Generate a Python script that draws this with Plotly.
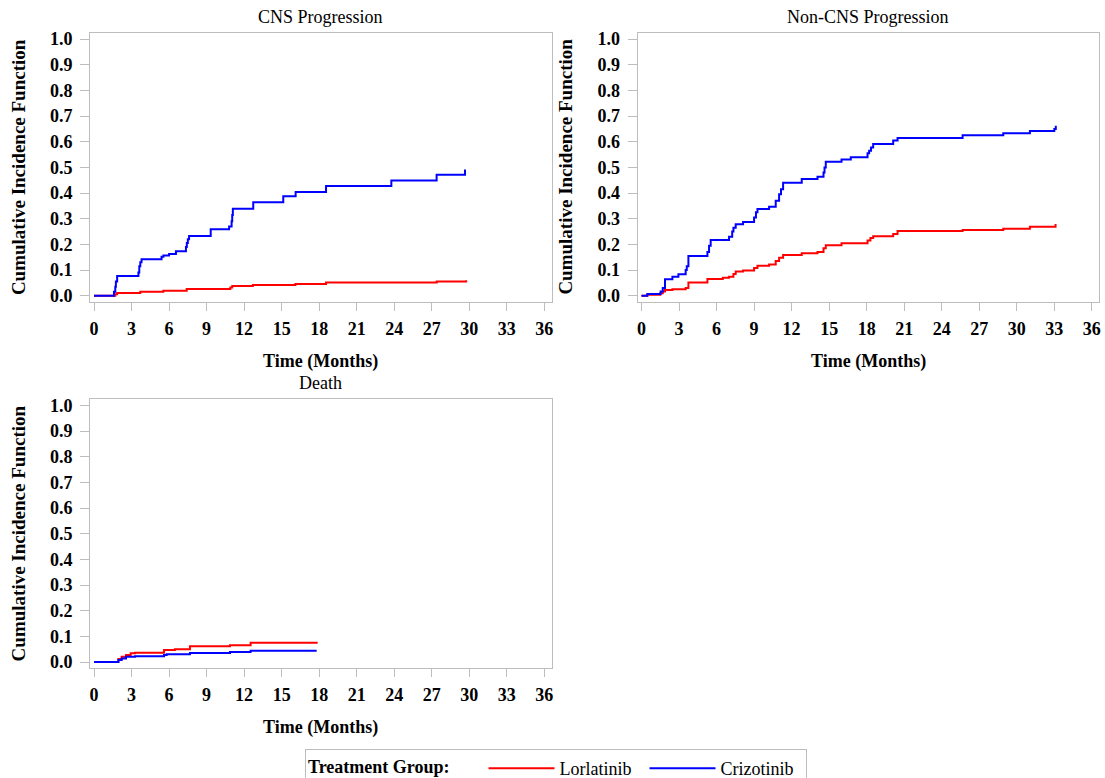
import plotly.graph_objects as go

W, H = 1105, 778

# ---------------- data ----------------
cns_lor_t = [0, 1.7, 1.85, 3.7, 5.54, 7.41, 10.9, 11.05, 12.7, 16.1, 18.55, 27.4, 29.75]
cns_lor_v = [0, 0.006, 0.011, 0.015, 0.019, 0.026, 0.032, 0.038, 0.042, 0.046, 0.051, 0.055, 0.06]

cns_cri_t = [0, 1.6, 1.7, 1.75, 1.85, 3.55, 3.62, 3.7, 3.8, 5.4, 5.55, 6.0, 6.55, 7.35, 7.42, 7.5,
             7.6, 9.33, 10.8, 11.0, 11.05, 11.1, 12.73, 15.13, 16.12, 18.55, 23.77, 27.39, 29.66]
cns_cri_v = [0, 0.015, 0.035, 0.055, 0.077, 0.09, 0.115, 0.13, 0.142, 0.152, 0.157, 0.163, 0.173,
             0.19, 0.205, 0.22, 0.233, 0.259, 0.27, 0.29, 0.315, 0.339, 0.364, 0.388, 0.404, 0.428,
             0.449, 0.471, 0.492]

noncns_lor_t = [0, 0.45, 1.5, 1.7, 1.88, 2.47, 3.53, 3.75, 5.27, 6.5, 7.0, 7.35, 7.53, 8.12, 9.0,
                9.27, 10.2, 10.73, 11.0, 11.32, 12.81, 14.07, 14.55, 14.73, 15.99, 18.07, 18.3,
                18.52, 20.12, 20.47, 25.67, 28.92, 31.05, 33.1]
noncns_lor_v = [0, 0.004, 0.01, 0.016, 0.022, 0.025, 0.03, 0.051, 0.065, 0.07, 0.074, 0.085, 0.094,
                0.098, 0.108, 0.117, 0.122, 0.135, 0.148, 0.159, 0.165, 0.17, 0.185, 0.197, 0.204,
                0.215, 0.225, 0.232, 0.24, 0.252, 0.256, 0.261, 0.269, 0.279]

noncns_cri_t = [0, 0.47, 1.53, 1.7, 1.88, 2.47, 2.95, 3.53, 3.62, 3.75, 5.27, 5.4, 5.53, 7.0, 7.25,
                7.35, 7.53, 8.12, 9.0, 9.15, 9.27, 10.2, 10.73, 11.0, 11.15, 11.32, 12.81, 14.07,
                14.55, 14.63, 14.73, 15.99, 16.73, 18.07, 18.2, 18.35, 18.52, 20.12, 20.47, 25.67,
                28.92, 31.05, 33.0, 33.12]
noncns_cri_v = [0, 0.007, 0.016, 0.03, 0.064, 0.074, 0.084, 0.1, 0.115, 0.155, 0.17, 0.195, 0.217,
                0.23, 0.25, 0.265, 0.278, 0.287, 0.305, 0.325, 0.338, 0.347, 0.37, 0.395, 0.415,
                0.44, 0.455, 0.464, 0.48, 0.5, 0.522, 0.531, 0.54, 0.555, 0.565, 0.578, 0.591,
                0.605, 0.615, 0.625, 0.633, 0.642, 0.65, 0.662]

death_lor_t = [0, 1.95, 2.21, 2.56, 2.93, 3.28, 5.6, 6.47, 7.67, 10.87, 12.52, 17.8]
death_lor_v = [0, 0.012, 0.02, 0.027, 0.034, 0.036, 0.047, 0.05, 0.061, 0.065, 0.075, 0.079]

death_cri_t = [0, 1.95, 2.21, 2.56, 3.28, 5.6, 5.81, 7.67, 10.87, 12.52, 17.8]
death_cri_v = [0, 0.008, 0.014, 0.02, 0.022, 0.027, 0.03, 0.035, 0.039, 0.044, 0.044]

panel_titles = ["CNS Progression", "Non-CNS Progression", "Death"]
group_names = ["Lorlatinib", "Crizotinib"]
group_colors = ["#FF0000", "#0000FF"]
x_ticks = list(range(0, 37, 3))
y_ticks = [round(i * 0.1, 1) for i in range(11)]

# ---------------- layout helpers ----------------
def px_x(p):
    return p / W

def px_y(p):
    return 1 - p / H

FONT = "Liberation Serif"
GRAY = "#BDBDBD"

# panel frames in pixels: (left, right, top, bottom)
frames = [(90, 551.7, 32.7, 301.5), (637.5, 1099.2, 32.7, 301.5), (90, 551.7, 399, 667.8)]

fig = go.Figure()

panels = [
    (cns_lor_t, cns_lor_v, cns_cri_t, cns_cri_v),
    (noncns_lor_t, noncns_lor_v, noncns_cri_t, noncns_cri_v),
    (death_lor_t, death_lor_v, death_cri_t, death_cri_v),
]

for i, (lt, lv, ct, cv) in enumerate(panels):
    suffix = "" if i == 0 else str(i + 1)
    for name, color, tt, vv in [(group_names[0], group_colors[0], lt, lv),
                                (group_names[1], group_colors[1], ct, cv)]:
        fig.add_trace(go.Scatter(
            x=tt, y=vv, mode="lines", line=dict(color=color, width=2, shape="hv"),
            name=name, legendgroup=name, showlegend=(i == 0),
            xaxis="x" + suffix, yaxis="y" + suffix,
        ))

layout = dict(
    width=W, height=H,
    margin=dict(l=0, r=0, t=0, b=0, autoexpand=False),
    paper_bgcolor="white", plot_bgcolor="white",
    font=dict(family=FONT, size=18, color="black"),
    showlegend=True,
)

annotations = []
for i, (l, r, t, b) in enumerate(frames):
    suffix = "" if i == 0 else str(i + 1)
    layout["xaxis" + suffix] = dict(
        domain=[px_x(l), px_x(r)], anchor="y" + suffix,
        range=[-0.32, 36.59], tickvals=x_ticks,
        showline=True, mirror=True, linecolor=GRAY, linewidth=1,
        ticks="outside", ticklen=8, tickcolor=GRAY, tickwidth=1,
        showgrid=False, zeroline=False,
        tickfont=dict(family=FONT, size=18, weight="bold", color="black"),
        ticklabelstandoff=3,
    )
    layout["yaxis" + suffix] = dict(
        domain=[px_y(b), px_y(t)], anchor="x" + suffix,
        range=[-0.0226, 1.025], tickvals=y_ticks, tickformat=".1f",
        showline=True, mirror=True, linecolor=GRAY, linewidth=1,
        ticks="outside", ticklen=9, tickcolor=GRAY, tickwidth=1,
        showgrid=False, zeroline=False,
        tickfont=dict(family=FONT, size=18, weight="bold", color="black"),
        ticklabelstandoff=4,
    )
    cx = (l + r) / 2
    cy = (t + b) / 2
    # panel title
    annotations.append(dict(
        text=panel_titles[i], xref="paper", yref="paper",
        x=px_x(cx), y=px_y(t - 16), xanchor="center", yanchor="middle",
        showarrow=False, font=dict(family=FONT, size=18, color="black"),
    ))
    # x axis title
    annotations.append(dict(
        text="<b>Time (Months)</b>", xref="paper", yref="paper",
        x=px_x(cx), y=px_y(b + 59.5), xanchor="center", yanchor="middle",
        showarrow=False, font=dict(family=FONT, size=18, color="black"),
    ))
    # y axis title
    annotations.append(dict(
        text="<b>Cumulative Incidence Function</b>", xref="paper", yref="paper",
        x=px_x(l - 72), y=px_y(cy), xanchor="center", yanchor="middle",
        textangle=-90, showarrow=False, font=dict(family=FONT, size=19, color="black"),
    ))

layout["annotations"] = annotations
layout["legend"] = dict(
    orientation="h", x=px_x(305), xanchor="left", y=px_y(749), yanchor="top",
    bordercolor=GRAY, borderwidth=1, bgcolor="white",
    font=dict(family=FONT, size=18, color="black"),
    title=dict(text="<b>Treatment Group:</b>&nbsp;&nbsp;&nbsp;&nbsp;&nbsp;&nbsp;",
               font=dict(family=FONT, size=18, color="black"), side="left"),
    entrywidth=80, itemwidth=66,
)

fig.update_layout(**layout)
fig.write_html("out.html")
